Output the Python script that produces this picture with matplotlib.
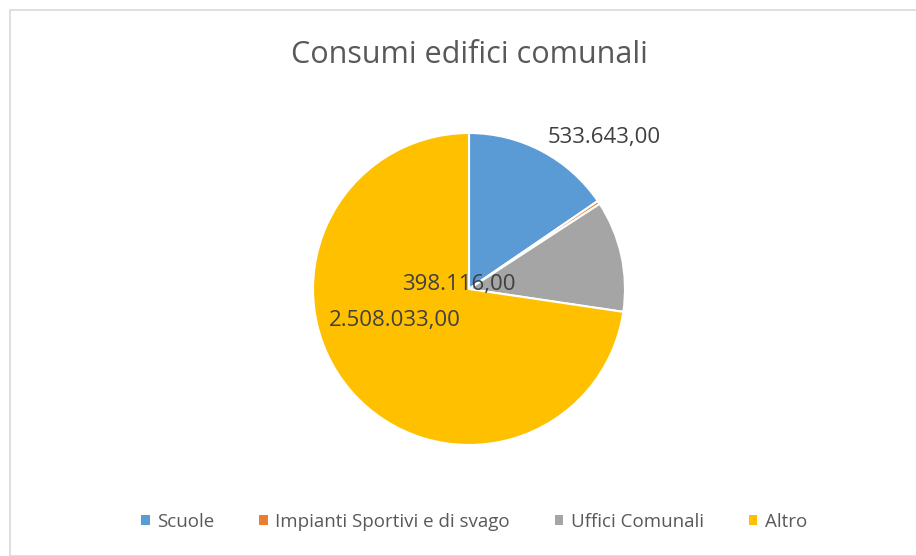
import matplotlib
matplotlib.use("Agg")
import matplotlib.pyplot as plt
from matplotlib.patches import Rectangle

plt.rcParams['font.family'] = ['Open Sans', 'DejaVu Sans']

# Consumi per categoria di edificio
categorie = ['Scuole', 'Impianti Sportivi e di svago', 'Uffici Comunali', 'Altro']
consumi = [533643.00, 12000.00, 398116.00, 2508033.00]
colori = ['#5B9BD5', '#ED7D31', '#A5A5A5', '#FFC000']
mostra_etichetta = [True, False, True, True]
# posizione delle etichette (unita' del raggio)
pos_etichette = [(0.865, 0.974), (0.0, 0.0), (-0.064, 0.032), (-0.474, -0.199)]


def formato_it(v):
    s = "{:,.2f}".format(v)
    return s.replace(",", "X").replace(".", ",").replace("X", ".")


fig = plt.figure(figsize=(9.16, 5.56), dpi=100)
fig.patch.set_facecolor('white')

# cornice del grafico
fig.patches.append(Rectangle((10 / 916, 0), 1.0, 1 - 10 / 556, transform=fig.transFigure,
                             facecolor='none', edgecolor='#D9D9D9', linewidth=1.2, zorder=-1))

cx, cy = 469 / 916, 1 - 289 / 556
rx, ry = 156 / 916, 156 / 556
ax = fig.add_axes([cx - rx, cy - ry, 2 * rx, 2 * ry])
wedges, _ = ax.pie(consumi, colors=colori, startangle=90, counterclock=False,
                   radius=1.0, wedgeprops=dict(edgecolor='white', linewidth=1.5))
ax.set_xlim(-1, 1)
ax.set_ylim(-1, 1)
ax.set_aspect('equal')
ax.axis('off')

for v, (x, y), m in zip(consumi, pos_etichette, mostra_etichetta):
    if m:
        ax.text(x, y, formato_it(v), ha='center', va='center', fontsize=16, color='#404040',
                clip_on=False)

fig.text(469 / 916, 1 - 55 / 556, 'Consumi edifici comunali', ha='center', va='center',
         fontsize=22, color='#595959')

handles = [Rectangle((0, 0), 1, 1, facecolor=c, edgecolor='none') for c in colori]
leg = fig.legend(handles, categorie, loc='center', bbox_to_anchor=(474 / 916, 1 - 522 / 556),
                 ncol=4, frameon=False, fontsize=13.5, handlelength=0.45, handleheight=0.45,
                 handletextpad=0.4, columnspacing=2.4, labelcolor='#595959')

fig.savefig('out.png', dpi=100, facecolor='white')
